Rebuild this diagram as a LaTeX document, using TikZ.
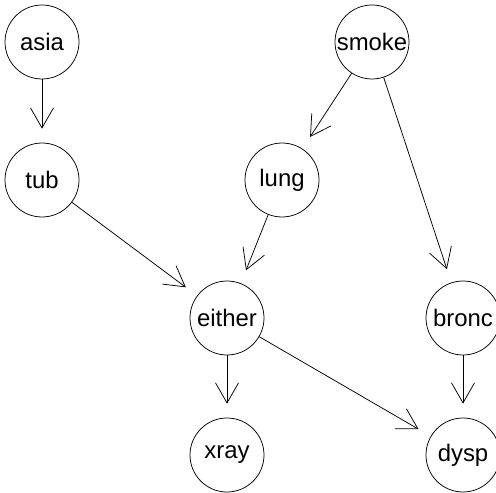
\documentclass[tikz,border=0pt]{standalone}
\usepackage{fontspec}
\setmainfont{Liberation Sans}
\usetikzlibrary{arrows.meta}
\begin{document}
\begin{tikzpicture}[x=1bp,y=-1bp,
  bn/.style={draw,circle,minimum size=74bp,inner sep=0pt,line width=0.75bp,font=\fontsize{24}{26}\selectfont},
  edge/.style={line width=0.75bp,-{Straight Barb[length=20bp,width=23bp,line width=0.75bp]},shorten >=14bp}]
\useasboundingbox (0,0) rectangle (496,493);
\node[bn] (asia) at (42,42) {asia};
\node[bn] (smoke) at (372,42) {smoke};
\node[bn] (tub) at (42,180) {tub};
\node[bn] (lung) at (282,180) {lung};
\node[bn] (either) at (227,318) {either};
\node[bn] (bronc) at (463,318) {bronc};
\node[bn] (xray) at (227,455) {xray};
\node[bn] (dysp) at (463,455) {dysp};
\draw[edge] (asia) -- (tub);
\draw[edge] (smoke) -- (lung);
\draw[edge] (smoke) -- (bronc);
\draw[edge] (tub) -- (either);
\draw[edge] (lung) -- (either);
\draw[edge] (either) -- (xray);
\draw[edge] (either) -- (dysp);
\draw[edge] (bronc) -- (dysp);
\end{tikzpicture}
\end{document}
